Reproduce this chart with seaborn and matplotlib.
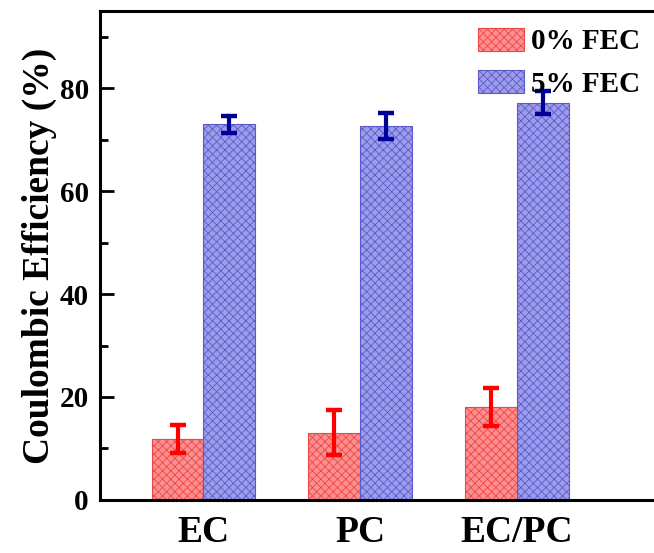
import matplotlib
matplotlib.use("Agg")
import matplotlib.pyplot as plt
from matplotlib.patches import Patch
from matplotlib.ticker import MultipleLocator
import numpy as np
import pandas as pd
import seaborn as sns

# Coulombic efficiency by solvent, with and without FEC additive
solvents = ["EC", "PC", "EC/PC"]
series = ["0% FEC", "5% FEC"]
ce_0fec = [11.8, 13.1, 18.1]
err_0fec = [2.7, 4.4, 3.7]
ce_5fec = [73.0, 72.7, 77.2]
err_5fec = [1.6, 2.5, 2.3]

face_colors = {"0% FEC": "#FF8F8F", "5% FEC": "#9C9CEC"}
hatch_colors = {"0% FEC": "#E84848", "5% FEC": "#5A5AC8"}
err_colors = {"0% FEC": "#FF0000", "5% FEC": "#000099"}

df = pd.DataFrame({
    "Solvent": solvents * 2,
    "Additive": [series[0]] * 3 + [series[1]] * 3,
    "CE": ce_0fec + ce_5fec,
    "Err": err_0fec + err_5fec,
})

sns.set_theme(style="white")
plt.rcParams["font.family"] = ["Liberation Serif", "DejaVu Serif"]
plt.rcParams["font.weight"] = "bold"
plt.rcParams["text.color"] = "black"
plt.rcParams["axes.labelcolor"] = "black"
plt.rcParams["xtick.color"] = "black"
plt.rcParams["ytick.color"] = "black"
plt.rcParams["hatch.linewidth"] = 0.6

fig = plt.figure(figsize=(6.54, 5.53), dpi=100)
ax = fig.add_axes([0.153, 0.096, 0.86, 0.884])

sns.barplot(data=df, x="Solvent", y="CE", hue="Additive", order=solvents,
            hue_order=series, palette=face_colors, width=0.66, gap=0,
            saturation=1, errorbar=None, legend=False, ax=ax)

for level, cont in zip(series, ax.containers):
    sub = df[df["Additive"] == level].set_index("Solvent").loc[solvents]
    xs, hs = [], []
    for bar in cont:
        bar.set_hatch("xxxx")
        bar.set_edgecolor(hatch_colors[level])
        bar.set_linewidth(0.8)
        xs.append(bar.get_x() + bar.get_width() / 2)
        hs.append(bar.get_height())
    ax.errorbar(xs, hs, yerr=sub["Err"].values, fmt="none",
                ecolor=err_colors[level], elinewidth=3.0, capsize=5.5,
                capthick=3.2, zorder=5)

ax.set_xlim(-0.66, 2.93)
ax.set_ylim(0, 95)
ax.yaxis.set_minor_locator(MultipleLocator(10))
ax.set_yticks([0, 20, 40, 60, 80])
ax.tick_params(axis="y", which="major", direction="in", length=10, width=2,
               labelsize=21, pad=8, left=True, colors="black")
ax.tick_params(axis="y", which="minor", direction="in", length=6, width=2,
               left=True)
ax.tick_params(axis="x", which="both", bottom=False, labelsize=27, pad=5,
               colors="black")
for lbl in ax.get_xticklabels() + ax.get_yticklabels():
    lbl.set_fontweight("bold")

ax.set_xlabel("")
ax.set_ylabel("Coulombic Efficiency (%)", fontsize=27, fontweight="bold",
              color="black")
ax.yaxis.set_label_coords(-0.077, 0.5)

for side in ["left", "bottom", "top", "right"]:
    ax.spines[side].set_visible(True)
    ax.spines[side].set_color("black")
    ax.spines[side].set_linewidth(2.2)

handles = [Patch(facecolor=face_colors[s], edgecolor=hatch_colors[s],
                 hatch="xxxx", linewidth=0.8, label=s) for s in series]
ax.legend(handles=handles, loc="upper left", bbox_to_anchor=(0.652, 0.99),
          frameon=False, labelcolor="black",
          prop={"family": "Liberation Serif", "weight": "bold", "size": 21},
          handlelength=1.55, handleheight=0.85, handletextpad=0.25,
          labelspacing=0.5, borderaxespad=0)

fig.savefig("out.png", dpi=100)
